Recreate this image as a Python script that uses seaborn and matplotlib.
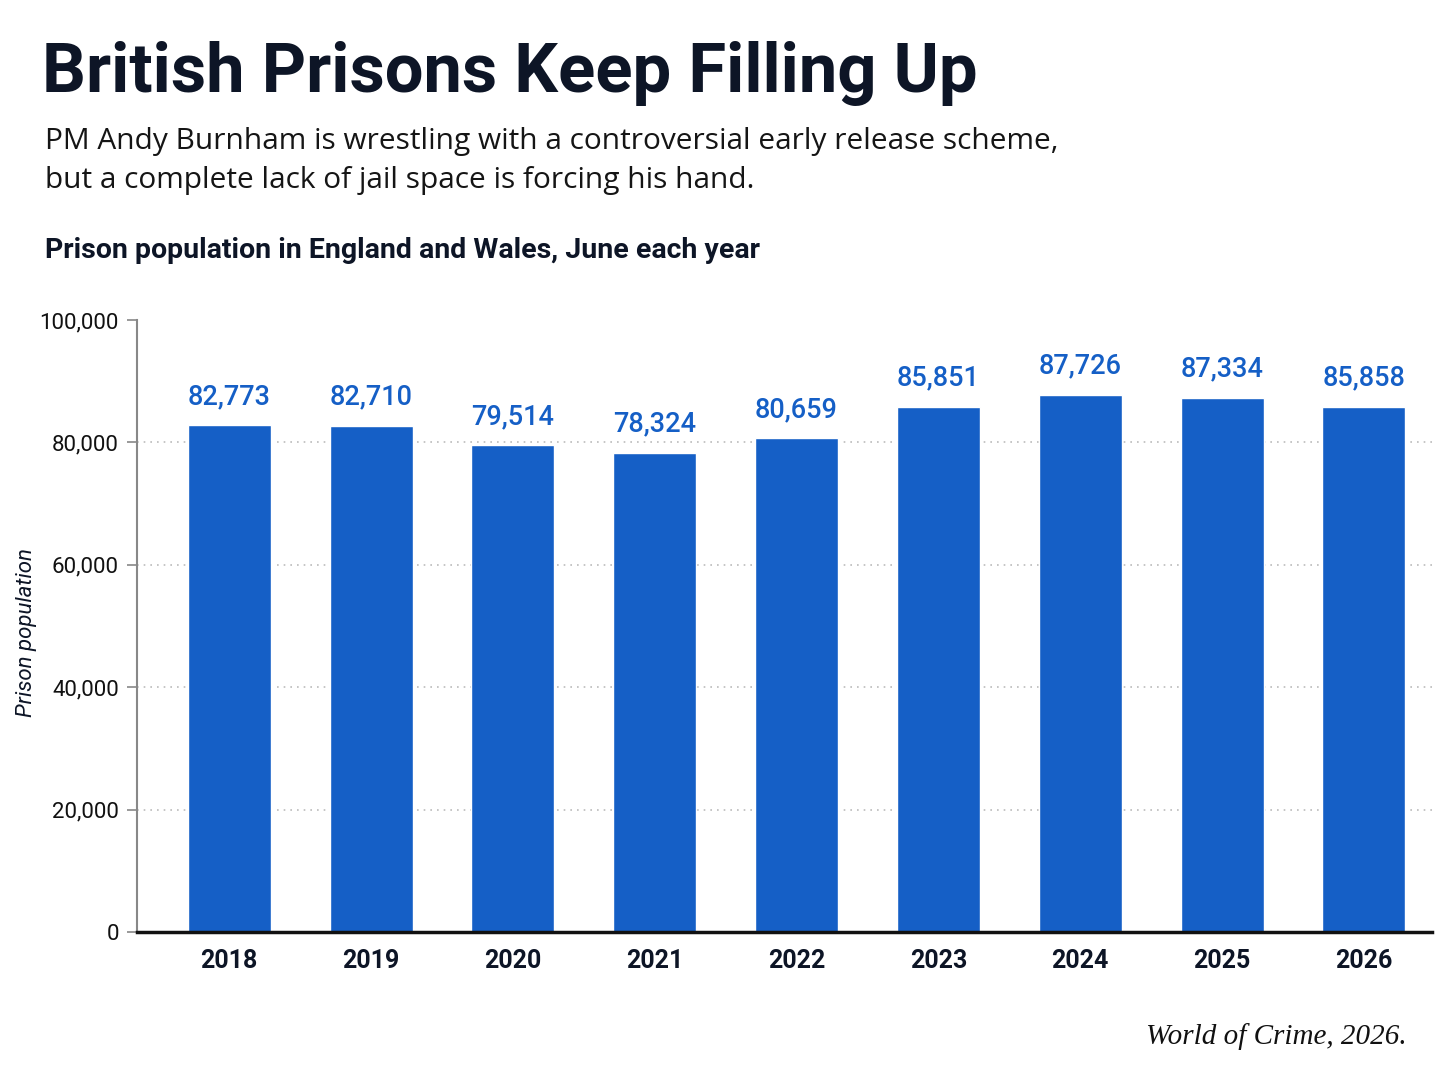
import matplotlib
matplotlib.use("Agg")
import matplotlib.pyplot as plt
import seaborn as sns
import pandas as pd

years = ["2018", "2019", "2020", "2021", "2022", "2023", "2024", "2025", "2026"]
population = [82773, 82710, 79514, 78324, 80659, 85851, 87726, 87334, 85858]
y_ticks = [0, 20000, 40000, 60000, 80000, 100000]

title = "British Prisons Keep Filling Up"
subtitle = ("PM Andy Burnham is wrestling with a controversial early release scheme,\n"
            "but a complete lack of jail space is forcing his hand.")
chart_label = "Prison population in England and Wales, June each year"
y_label = "Prison population"
source = "World of Crime, 2026."

sns.set_theme(style="white")
plt.rcParams['font.family'] = ['Roboto', 'DejaVu Sans']

BLUE = "#155FC6"
DARK = "#0D1526"

df = pd.DataFrame({"year": years, "population": population})

fig = plt.figure(figsize=(14.48, 10.86), dpi=100)
fig.patch.set_facecolor("white")
ax = fig.add_axes([137/1448, 1-932/1086, (1432-137)/1448, (932-320)/1086])

sns.barplot(data=df, x="year", y="population", color=BLUE, saturation=1,
            width=0.585, ax=ax, zorder=3)

ax.set_xlim(-0.65, 8.48)
ax.set_ylim(0, 100000)
ax.set_yticks(y_ticks)
ax.set_yticklabels([f"{v:,}" for v in y_ticks], fontsize=16, color="#111111")
ax.tick_params(axis="y", length=7, width=1.2, color="#888888", pad=6, direction="out", left=True)
ax.tick_params(axis="x", length=0, pad=12)
for lbl in ax.get_xticklabels():
    lbl.set_fontsize(18)
    lbl.set_fontweight("bold")
    lbl.set_color(DARK)

ax.yaxis.grid(True, linestyle=(0, (1, 3)), color="#BBBBBB", linewidth=1.2, zorder=0)
ax.set_axisbelow(True)
ax.get_ygridlines()[-1].set_visible(False)
ax.get_ygridlines()[0].set_visible(False)

for s in ["top", "right"]:
    ax.spines[s].set_visible(False)
ax.spines["left"].set_color("#888888")
ax.spines["left"].set_linewidth(1.5)
ax.spines["bottom"].set_color("#111111")
ax.spines["bottom"].set_linewidth(2.5)
ax.spines["bottom"].set_zorder(5)

for i, v in enumerate(population):
    ax.text(i, v + 2500, f"{v:,}", ha="center", va="bottom", fontsize=19.5,
            fontweight="medium", color=BLUE, zorder=6)

ax.set_xlabel("")
ax.set_ylabel(y_label, fontsize=16, fontstyle="italic", color=DARK, labelpad=14)
ax.yaxis.set_label_coords(-0.077, 0.49)

fig.text(42/1448, 1-73/1086, title, fontsize=49.5, fontweight="bold", color=DARK,
         ha="left", va="center")
fig.text(45/1448, 1-161/1086, subtitle, fontsize=21.5, color="#151515",
         ha="left", va="center", linespacing=1.42, family=["Open Sans", "DejaVu Sans"])
fig.text(45/1448, 1-251/1086, chart_label, fontsize=20.5, fontweight="bold", color=DARK,
         ha="left", va="center")
fig.text(1407/1448, 1-1037/1086, source, fontsize=21, fontstyle="italic", color="#111111",
         ha="right", va="center", family=["Liberation Serif", "DejaVu Serif"])

fig.savefig("out.png", dpi=100, facecolor="white")
